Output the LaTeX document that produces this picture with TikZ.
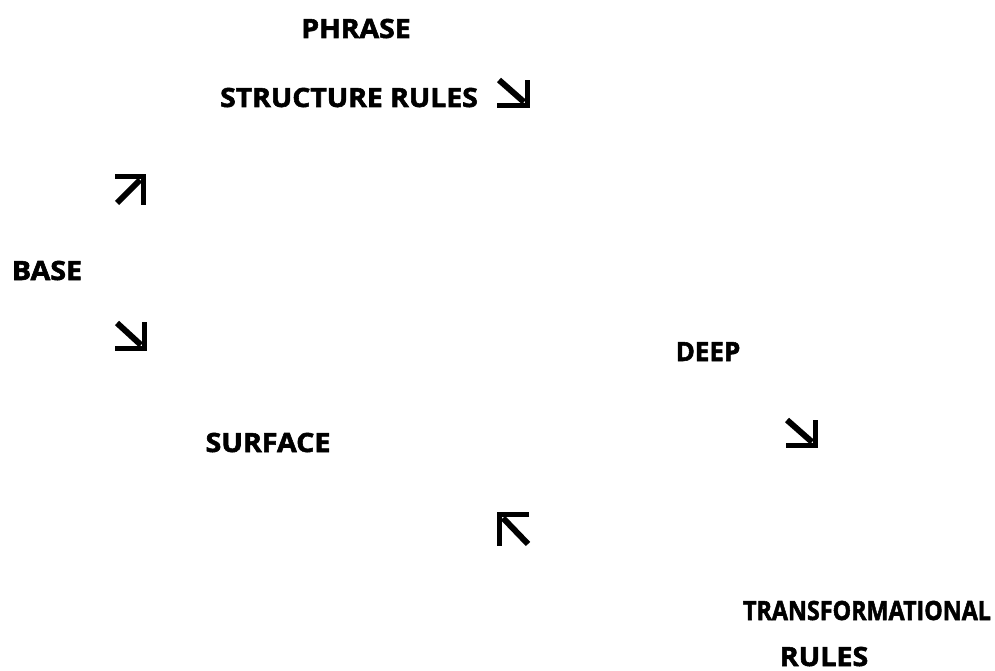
\documentclass[tikz,border=0pt]{standalone}
\usepackage{fontspec}
\setmainfont{Open Sans}[BoldFeatures={FakeBold=2}]
\newcommand{\lblx}[2]{\scalebox{#1}[1]{#2}}
\begin{document}
\begin{tikzpicture}[x=1pt,y=-1pt,
  lbl/.style={font=\fontsize{26.5}{30}\selectfont\bfseries, anchor=base, inner sep=0pt},
  glyph/.style={line width=5pt, line join=miter, line cap=butt},
  diag/.style={line width=6pt, line cap=butt}]
\useasboundingbox (0,0) rectangle (995,671);
\fill[white] (0,0) rectangle (995,671);
\node[lbl] (phrase) at (356,38) {\lblx{1.07}{PHRASE}};
\node[lbl] (psr) at (349,107) {\lblx{1.07}{STRUCTURE RULES}};
\node[lbl] (base) at (47,280) {\lblx{1.08}{BASE}};
\node[lbl] (deep) at (708,361) {\lblx{0.98}{DEEP}};
\node[lbl] (surface) at (268,452) {\lblx{1.08}{SURFACE}};
\node[lbl] (trans) at (867,620) {\lblx{0.88}{TRANSFORMATIONAL}};
\node[lbl] (rules) at (824,666) {\lblx{1.08}{RULES}};
% arrow 1 (down-right)
\coordinate (a1) at (527.5,105.5);
\draw[glyph] (497,105.5) -- (a1) -- (527.5,80);
\draw[diag] (499,80) -- (524,102);
% arrow 2 (up-right)
\coordinate (a2) at (143.5,176.5);
\draw[glyph] (115,176.5) -- (a2) -- (143.5,205);
\draw[diag] (117,203) -- (140,180);
% arrow 3 (down-right)
\coordinate (a3) at (144.5,348.5);
\draw[glyph] (115,348.5) -- (a3) -- (144.5,322);
\draw[diag] (117,323) -- (141,345);
% arrow 4 (down-right)
\coordinate (a4) at (815.5,445.5);
\draw[glyph] (786,445.5) -- (a4) -- (815.5,420);
\draw[diag] (787,420) -- (812,442);
% arrow 5 (up-left)
\coordinate (a5) at (499.5,514.5);
\draw[glyph] (529,514.5) -- (a5) -- (499.5,546);
\draw[diag] (528,544) -- (503,518);
\end{tikzpicture}
\end{document}
